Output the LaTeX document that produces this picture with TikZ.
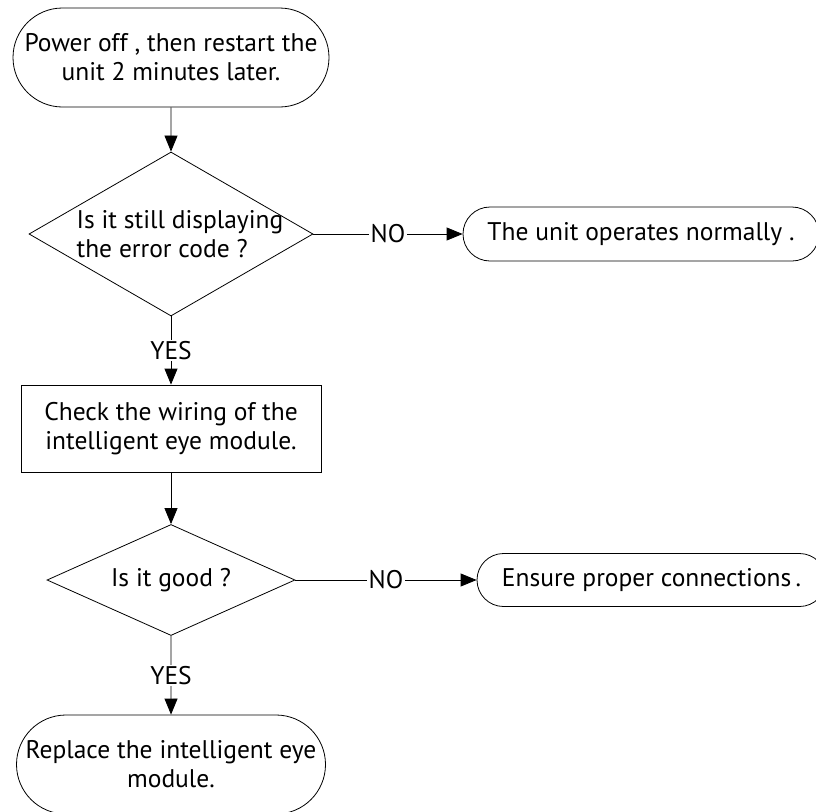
\documentclass[tikz,border=0pt]{standalone}
\usepackage{fontspec}
\setmainfont{PT Sans}
\usetikzlibrary{shapes.geometric,shapes.misc,arrows.meta}
\begin{document}
\begin{tikzpicture}[x=1pt,y=-1pt,
  font=\fontsize{25.5}{29}\selectfont,
  line width=0.8pt,
  term/.style={draw,rounded rectangle,inner sep=0pt,align=center},
  decision/.style={draw,diamond,inner sep=0pt},
  action/.style={draw,rectangle,inner sep=0pt,align=center},
  flow/.style={-{Triangle[length=16pt,width=13pt]}},
  answer/.style={fill=white,inner sep=1.5pt}]
\useasboundingbox (0,0) rectangle (816,811);
% main column
\node[term,minimum width=316pt,minimum height=99pt] (restart) at (171,57.5)
  {Power off , then restart the\\unit 2 minutes later.};
\node[decision,minimum width=284pt,minimum height=164pt,
  label={[align=left,xshift=9pt]center:Is it still displaying\\the error code ?}]
  (stillerr) at (171,234) {};
\node[action,minimum width=300pt,minimum height=87pt] (wiring) at (171,428.5)
  {Check the wiring of the\\intelligent eye module.};
\node[decision,minimum width=248pt,minimum height=111pt,
  label={center:Is it good ?}] (good) at (171,580) {};
\node[term,minimum width=309pt,minimum height=99pt] (replace) at (171,764.5)
  {Replace the intelligent eye\\module.};
% right column
\node[term,minimum width=356pt,minimum height=54pt] (normal) at (641,234)
  {The unit operates normally .};
\node[term,minimum width=349pt,minimum height=53pt] (ensure) at (651.5,580)
  {Ensure proper connections\,.};
% connectors
\draw[flow] (restart) -- (stillerr);
\draw[flow] (stillerr) -- node[answer]{NO} (normal);
\draw[flow] (stillerr) -- node[answer]{YES} (wiring);
\draw[flow] (wiring) -- (good);
\draw[flow] (good) -- node[answer]{NO} (ensure);
\draw[flow] (good) -- node[answer]{YES} (replace);
\end{tikzpicture}
\end{document}
